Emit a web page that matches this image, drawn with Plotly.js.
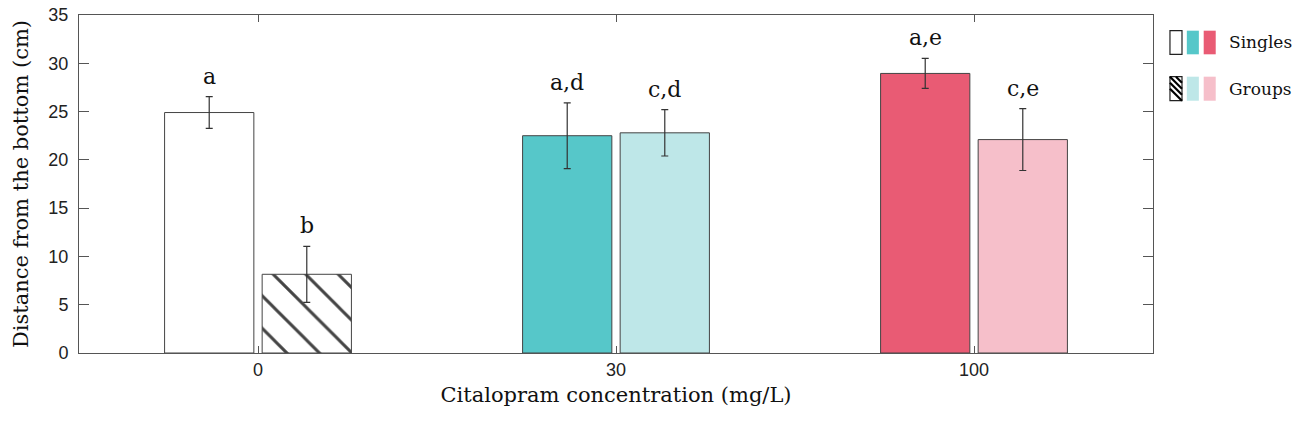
<!DOCTYPE html>
<html>
<head>
<meta charset="utf-8">
<script src="https://cdn.plot.ly/plotly-3.0.1.min.js"></script>
<style>html,body{margin:0;padding:0;background:#fff;}#chart{width:1300px;height:424px;}</style>
</head>
<body>
<div id="chart"></div>
<script>
// ---- data ----
const categories = ['0', '30', '100'];
const singlesMean = [24.9, 22.5, 28.95];
const singlesErr = [1.65, 3.4, 1.55];
const groupsMean = [8.15, 22.8, 22.1];
const groupsErr = [2.9, 2.4, 3.2];
const singlesLetters = ['a', 'a,d', 'a,e'];
const groupsLetters = ['b', 'c,d', 'c,e'];
const singlesColors = ['#FFFFFF', '#56C7C9', '#E95B74'];
const groupsColors = ['#FFFFFF', '#BEE7E8', '#F6BFCA'];
const groupsPattern = ['\\', '', ''];
const legendNames = ['Singles', 'Groups'];

const serif = 'DejaVu Serif, Liberation Serif, serif';
const sans = 'Liberation Sans, Arial, sans-serif';
const bargap = 0.455;

const traces = [
  {
    type: 'bar', name: legendNames[0], x: categories, y: singlesMean,
    marker: {color: singlesColors, line: {color: '#444', width: 1}},
    error_y: {type: 'data', array: singlesErr, visible: true, color: '#333', thickness: 1.2, width: 3.5},
    showlegend: false, hoverinfo: 'skip'
  },
  {
    type: 'bar', name: legendNames[1], x: categories, y: groupsMean,
    marker: {
      color: groupsColors, line: {color: '#444', width: 1},
      pattern: {shape: groupsPattern, fgcolor: '#000', fgopacity: 1, size: 23, solidity: 0.13, fillmode: 'overlay'}
    },
    error_y: {type: 'data', array: groupsErr, visible: true, color: '#333', thickness: 1.2, width: 3.5},
    showlegend: false, hoverinfo: 'skip'
  }
];

// letters above error bars
const slot = (1 - bargap) / 2;
const annotations = [];
categories.forEach((c, i) => {
  annotations.push({x: i - slot / 2, y: singlesMean[i] + singlesErr[i], xref: 'x', yref: 'y', text: singlesLetters[i],
    showarrow: false, yanchor: 'bottom', yshift: 6, font: {family: serif, size: 22, color: '#111'}});
  annotations.push({x: i + slot / 2, y: groupsMean[i] + groupsErr[i], xref: 'x', yref: 'y', text: groupsLetters[i],
    showarrow: false, yanchor: 'bottom', yshift: 6, font: {family: serif, size: 22, color: '#111'}});
});

// custom legend (paper coordinates)
const L = {x0: 1.0158, w: 0.0112, gap: 0.0037};
const rows = [{y0: 0.8837, y1: 0.9536, colors: [singlesColors[0], singlesColors[1], singlesColors[2]], hatch: false},
              {y0: 0.7464, y1: 0.8175, colors: [groupsColors[0], groupsColors[1], groupsColors[2]], hatch: true}];
const shapes = [];
rows.forEach((r, ri) => {
  for (let k = 0; k < 3; k++) {
    const x0 = L.x0 + k * (L.w + L.gap + 0.0008);
    shapes.push({type: 'rect', xref: 'paper', yref: 'paper', x0: x0, x1: x0 + L.w, y0: r.y0, y1: r.y1,
      fillcolor: r.colors[k], line: {color: k === 0 ? '#222' : r.colors[k], width: k === 0 ? 1.2 : 0}, layer: 'above'});
  }
  if (r.hatch) {
    const x0 = L.x0, x1 = L.x0 + L.w;
    const hx = L.w, hy = (r.y1 - r.y0) / 2;
    const offs = [-0.5, 0, 0.5, 1.0];
    offs.forEach(o => {
      let yStart = r.y1 - o * hy;
      let xs = x0, ys = yStart, xe = x1, ye = yStart - hy;
      if (ys > r.y1) { xs = x0 + (ys - r.y1) / hy * hx; ys = r.y1; }
      if (ye < r.y0) { xe = x1 - (r.y0 - ye) / hy * hx; ye = r.y0; }
      shapes.push({type: 'line', xref: 'paper', yref: 'paper', x0: xs, x1: xe, y0: ys, y1: ye,
        line: {color: '#000', width: 2.2}, layer: 'above'});
    });
  }
  annotations.push({xref: 'paper', yref: 'paper', x: 1.0689, y: (r.y0 + r.y1) / 2, xanchor: 'left', yanchor: 'middle',
    text: legendNames[ri], showarrow: false, font: {family: serif, size: 17, color: '#111'}});
});

const layout = {
  width: 1300, height: 424,
  margin: {l: 79, r: 147, t: 15, b: 71},
  paper_bgcolor: '#fff', plot_bgcolor: '#fff',
  barmode: 'group', bargap: bargap, bargroupgap: 0.085,
  showlegend: false,
  xaxis: {
    type: 'category', range: [-0.5, 2.5],
    showline: true, linecolor: '#555', linewidth: 1, mirror: 'ticks',
    ticks: 'inside', ticklen: 7, tickcolor: '#555', showgrid: false, zeroline: false,
    tickfont: {family: sans, size: 18, color: '#222'},
    title: {text: 'Citalopram concentration (mg/L)', font: {family: serif, size: 21, color: '#111'}, standoff: 8}
  },
  yaxis: {
    range: [0, 35], dtick: 5,
    showline: true, linecolor: '#555', linewidth: 1, mirror: 'ticks',
    ticks: 'inside', ticklen: 10, tickcolor: '#555', showgrid: false, zeroline: false,
    ticklabelstandoff: 6,
    tickfont: {family: sans, size: 18, color: '#222'},
    title: {text: 'Distance from the bottom (cm)', font: {family: serif, size: 21, color: '#111'}, standoff: 14}
  },
  annotations: annotations,
  shapes: shapes
};

Plotly.newPlot('chart', traces, layout, {displayModeBar: false, staticPlot: true});
</script>
</body>
</html>
